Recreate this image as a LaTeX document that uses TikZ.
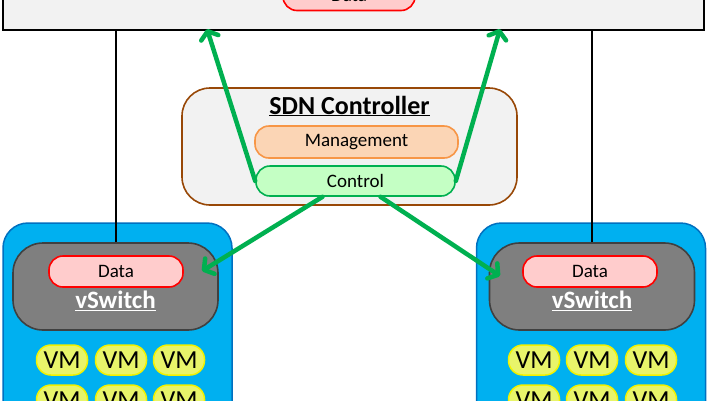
\documentclass[tikz,border=0pt]{standalone}
\usepackage{fontspec}
\setmainfont{Carlito}
\usepackage{tikz}
\usetikzlibrary{arrows.meta}
\usetikzlibrary{calc}

\definecolor{panelfill}{HTML}{F2F2F2}
\definecolor{datafill}{HTML}{FFCCCC}
\definecolor{ctrlline}{HTML}{984807}
\definecolor{mgmtfill}{HTML}{FBD5B5}
\definecolor{mgmtline}{HTML}{F79646}
\definecolor{cpfill}{HTML}{C4FFC4}
\definecolor{sdngreen}{HTML}{00B050}
\definecolor{hostfill}{HTML}{00B0F0}
\definecolor{hostline}{HTML}{0070C0}
\definecolor{vsfill}{HTML}{7F7F7F}
\definecolor{vsline}{HTML}{404040}
\definecolor{vmfill}{HTML}{E8F46A}
\definecolor{vmline}{HTML}{F2F200}

\begin{document}
\begin{tikzpicture}[x=1pt,y=-1pt,
	pill/.style={draw,line width=1.6pt,rounded corners=14pt,minimum height=31pt,inner sep=0pt,font=\fontsize{19}{21}\selectfont},
	datanode/.style={pill,fill=datafill,draw=red,minimum width=134pt},
	vm/.style={draw=vmline,fill=vmfill,line width=1.5pt,rounded corners=14.5pt,minimum width=51pt,minimum height=30pt,inner sep=0pt,font=\fontsize{26}{28}\selectfont},
	host/.style={draw=hostline,fill=hostfill,line width=1.5pt,rounded corners=25pt,minimum width=229pt,minimum height=260pt,inner sep=0pt},
	vswitch/.style={draw=vsline,fill=vsfill,line width=1.6pt,rounded corners=30pt,minimum width=205pt,minimum height=87pt,inner sep=0pt},
	link/.style={line width=2pt},
	ctl/.style={draw=sdngreen,line width=4.5pt,line cap=round,-{Straight Barb[length=7pt,width=18pt,round]}}
	]
	\useasboundingbox (0,0) rectangle (708,400);
	\clip (0,0) rectangle (708,400);

	% switch fabric at the top
	\node[draw,fill=panelfill,line width=2.4pt,minimum width=701pt,minimum height=90pt,inner sep=0pt] (fabric) at (353.5,-15) {};
	\node[datanode,minimum width=132pt] (fdata) at (349,-5) {Data};

	% controller
	\node[draw=ctrlline,fill=panelfill,line width=1.6pt,rounded corners=28pt,minimum width=335pt,minimum height=117pt,inner sep=0pt] (ctrl) at (349.5,146.5) {};
	\node[font=\fontsize{26}{28}\selectfont\bfseries] (title) at (349.5,106) {\underline{SDN Controller}};
	\node[pill,fill=mgmtfill,draw=mgmtline,minimum width=203pt,minimum height=32pt] (mgmt) at (356.5,142) {Management};
	\node[pill,fill=cpfill,draw=sdngreen,minimum width=199pt,minimum height=30pt] (cp) at (355.5,181) {Control};

	% hosts
	\foreach \h/\hx/\sx/\dx/\va/\vb/\vc in {L/117.5/115.5/116/62/121/179, R/591/592/590/534/592/651}{
		\node[host] (host\h) at (\hx,353) {};
		\node[vswitch] (vs\h) at (\sx,286.5) {};
		\node[datanode] (data\h) at (\dx,271.5) {Data};
		\node[font=\fontsize{25}{27}\selectfont\bfseries,text=white] (vsname\h) at (\sx,301) {\underline{vSwitch}};
		\foreach \c/\vx in {1/\va,2/\vb,3/\vc}
			\foreach \r/\vy in {1/360,2/400}
				\node[vm] (vm\h-\r-\c) at (\vx,\vy) {VM};
	}

	% data links
	\draw[link] (vsL.north) -- (vsL.north |- fabric.south);
	\draw[link] (vsR.north) -- (vsR.north |- fabric.south);

	% control channels
	\coordinate (upL) at (207,29);
	\coordinate (upR) at (500,29);
	\coordinate (dnL) at (202,271);
	\coordinate (dnR) at (500,276);
	\draw[ctl] (cp.west) -- (upL);
	\draw[ctl] (cp.east) -- (upR);
	\draw[ctl] ([xshift=-33pt]cp.south) -- (dnL);
	\draw[ctl] ([xshift=25pt]cp.south) -- (dnR);
\end{tikzpicture}
\end{document}
